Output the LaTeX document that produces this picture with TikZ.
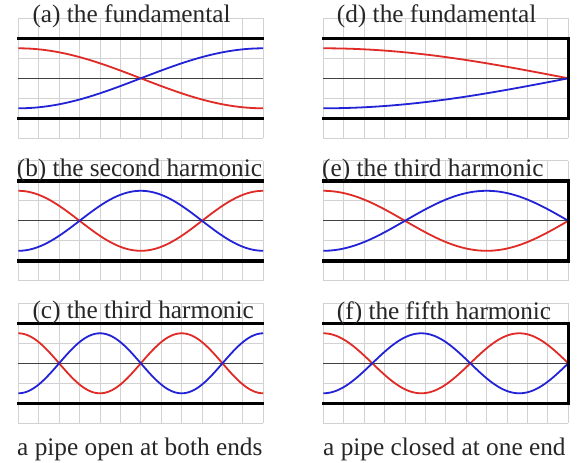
\documentclass[tikz,border=0pt]{standalone}
\usepackage{fontspec}
\setmainfont{Liberation Serif}
\definecolor{gridc}{HTML}{D2D2D2}
\definecolor{wred}{HTML}{E02A26}
\definecolor{wblue}{HTML}{2222D6}
\definecolor{txt}{HTML}{262626}
\newcommand\panelgrid[2]{%
  \foreach \i in {0,...,12} \draw[gridline] ({#1+\i*245/12},#2) -- ({#1+\i*245/12},#2+120);
  \foreach \j in {0,...,6} \draw[gridline] (#1,#2+\j*20) -- (#1+245,#2+\j*20);
}
\newcommand\openpipe[3]{%
  \panelgrid{#1}{#2}
  \draw[axisline] (#1,#2+60) -- (#1+245,#2+60);
  \draw[redwave] plot[domain=0:1,samples=121,smooth] ({#1+245*\x},{#2+60-30*cos(#3*\x)});
  \draw[bluewave] plot[domain=0:1,samples=121,smooth] ({#1+245*\x},{#2+60+30*cos(#3*\x)});
  \draw[wall] (#1-1,#2+20) -- (#1+246,#2+20);
  \draw[wall] (#1-1,#2+100) -- (#1+246,#2+100);
}
\newcommand\closedpipe[3]{%
  \panelgrid{#1}{#2}
  \draw[axisline] (#1,#2+60) -- (#1+245,#2+60);
  \draw[redwave] plot[domain=0:1,samples=121,smooth] ({#1+245*\x},{#2+60-30*cos(#3*\x)});
  \draw[bluewave] plot[domain=0:1,samples=121,smooth] ({#1+245*\x},{#2+60+30*cos(#3*\x)});
  \draw[wall, line join=miter] (#1-1,#2+20) -- (#1+245,#2+20) -- (#1+245,#2+100) -- (#1-1,#2+100);
}
\begin{document}
\begin{tikzpicture}[x=1pt,y=-1pt,
  gridline/.style={draw=gridc, line width=0.9pt},
  wall/.style={draw=black, line width=3.6pt},
  axisline/.style={draw=black!75, line width=1pt},
  redwave/.style={draw=wred, line width=1.8pt},
  bluewave/.style={draw=wblue, line width=1.8pt},
  title/.style={anchor=base west, inner sep=0pt, text=txt, font=\fontsize{25.3}{30}\selectfont}]
\useasboundingbox[fill=white] (0,0) rectangle (584,463);
% left column: open pipe
\openpipe{18.3}{18.3}{180}
\openpipe{18.3}{160.8}{360}
\openpipe{18.3}{303.3}{540}
% right column: closed pipe
\closedpipe{323.3}{18.3}{90}
\closedpipe{323.3}{160.8}{270}
\closedpipe{323.3}{303.3}{450}
% titles
\node[title] (ta) at (32.3,22.3) {(a) the fundamental};
\node[title] (tb) at (16.7,176.7) {(b) the second harmonic};
\node[title] (tc) at (32.3,318.3) {(c) the third harmonic};
\node[title] (td) at (336.7,23) {(d) the fundamental};
\node[title] (te) at (322,176.7) {(e) the third harmonic};
\node[title] (tf) at (336.7,319) {(f) the fifth harmonic};
% captions
\node[title] (la) at (17,455) {a pipe open at both ends};
\node[title] (lb) at (323,455) {a pipe closed at one end};
\end{tikzpicture}
\end{document}
